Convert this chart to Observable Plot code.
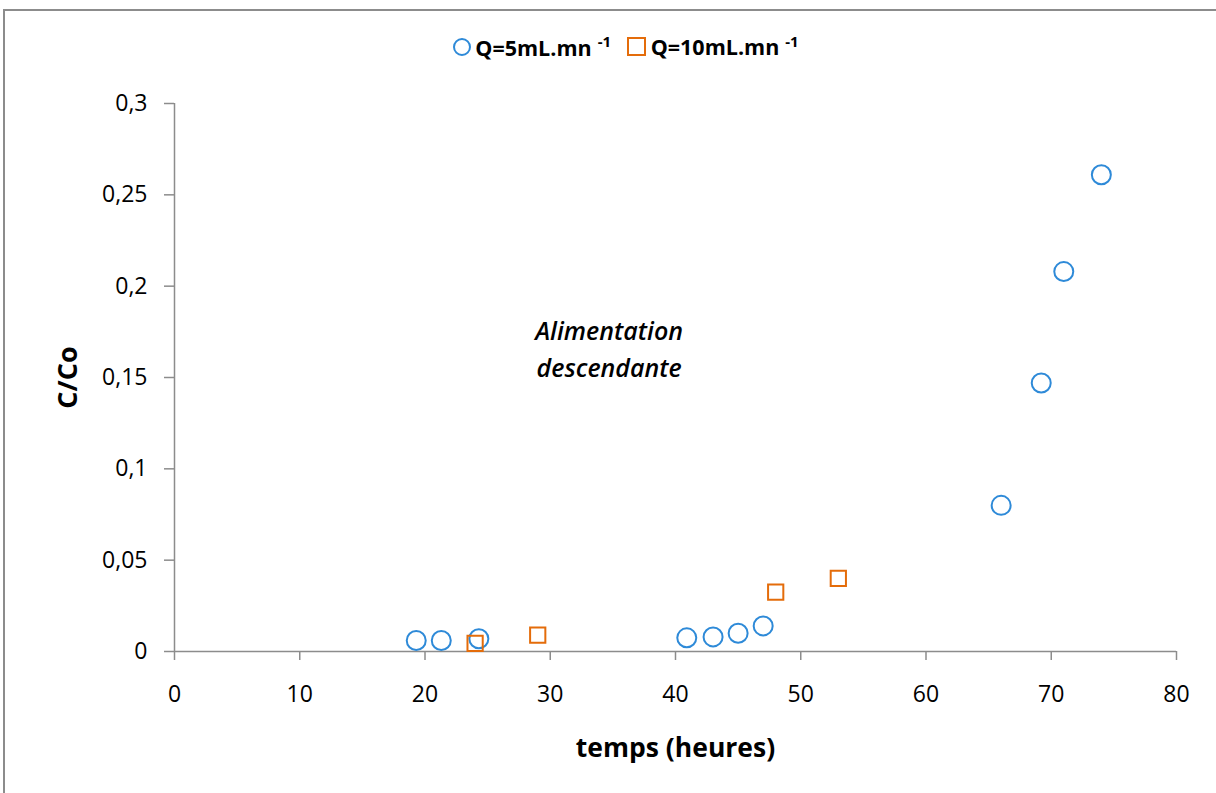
<!DOCTYPE html>
<html>
<head>
<meta charset="utf-8">
<script src="https://cdn.jsdelivr.net/npm/d3@7"></script>
<script src="https://cdn.jsdelivr.net/npm/@observablehq/plot@0.6"></script>
<style>
  html, body { margin: 0; padding: 0; background: #fff; }
  #wrap { position: relative; width: 1216px; height: 793px; overflow: hidden; font-family: "Open Sans", sans-serif; }
  #frame { position: absolute; left: 3px; top: 9px; width: 1300px; height: 900px; border-left: 2px solid #8c8c8c; border-top: 2px solid #8c8c8c; }
  #chart { position: absolute; left: 0; top: 0; }
  #legend { position: absolute; top: 32px; left: 0; width: 1216px; padding-left: 36px; box-sizing: border-box; text-align: center; font-weight: bold; font-size: 21.5px; color: #000; white-space: nowrap; }
  #legend .item { display: inline-flex; align-items: center; margin: 0 5px; }
  #legend sup { font-size: 15px; position: relative; top: -6px; margin-left: 6px; }
  #legend .circ { display: inline-block; width: 14px; height: 14px; border: 2px solid #2e8ad8; border-radius: 50%; margin-right: 4px; }
  #legend .sq { display: inline-block; width: 15px; height: 15px; border: 2px solid #e46c0a; margin-right: 5px; }
</style>
</head>
<body>
<div id="wrap">
  <div id="frame"></div>
  <div id="chart"></div>
  <div id="legend">
    <span class="item"><span class="circ"></span>Q=5mL.mn<sup>-1</sup></span>
    <span class="item"><span class="sq"></span>Q=10mL.mn<sup>-1</sup></span>
  </div>
</div>
<script>
// Data
const timeQ5 = [19.3, 21.3, 24.3, 40.9, 43, 45, 47, 66, 69.2, 71, 74];
const ccoQ5  = [0.006, 0.006, 0.007, 0.0075, 0.008, 0.010, 0.014, 0.080, 0.147, 0.208, 0.261];
const timeQ10 = [24, 29, 48, 53];
const ccoQ10  = [0.0045, 0.009, 0.0325, 0.040];
const xTicks = [0, 10, 20, 30, 40, 50, 60, 70, 80];
const yTicks = [0, 0.05, 0.1, 0.15, 0.2, 0.25, 0.3];
const annotationLines = ["Alimentation", "descendante"];

const q5 = timeQ5.map((t, i) => ({t, c: ccoQ5[i]}));
const q10 = timeQ10.map((t, i) => ({t, c: ccoQ10[i]}));
const fmt = v => String(v).replace(".", ",");

const axisColor = "#8c8c8c";
const font = "'Open Sans', sans-serif";
const plot = Plot.plot({
  width: 1216,
  height: 793,
  marginLeft: 174,
  marginRight: 40,
  marginTop: 103,
  marginBottom: 142,
  style: {fontFamily: font, fontSize: "23px", color: "#000", background: "transparent"},
  x: {domain: [0, 80], label: null},
  y: {domain: [0, 0.3], label: null},
  marks: [
    Plot.ruleY([0], {stroke: axisColor, strokeWidth: 1.5}),
    Plot.ruleX([0], {stroke: axisColor, strokeWidth: 1.5}),
    Plot.axisX({ticks: xTicks, tickSize: 9, tickPadding: 25, stroke: axisColor, strokeWidth: 1.5, fill: "#000", fontSize: 23, tickFormat: d => String(d), label: null}),
    Plot.axisY({ticks: yTicks, tickSize: 10, tickPadding: 17, stroke: axisColor, strokeWidth: 1.5, fill: "#000", fontSize: 23, tickFormat: fmt, label: null}),
    Plot.text(["temps (heures)"], {frameAnchor: "bottom", lineAnchor: "middle", dy: 97, fontWeight: "bold", fontSize: 26.5, fill: "#000"}),
    Plot.text(["C/Co"], {frameAnchor: "left", textAnchor: "middle", lineAnchor: "middle", dx: -106, rotate: -90, fontWeight: "bold", fontSize: 27, fill: "#000"}),
    Plot.text([annotationLines.join("\n")], {x: 34.7, y: 0.1667, fontStyle: "italic", fontSize: 25, lineHeight: 1.45, fill: "#000", fontWeight: 600}),
    Plot.dot(q5, {x: "t", y: "c", symbol: "circle", r: 9.5, stroke: "#2e8ad8", strokeWidth: 2, fill: "none"}),
    Plot.dot(q10, {x: "t", y: "c", symbol: "square", r: 8.6, stroke: "#e46c0a", strokeWidth: 2, fill: "none"})
  ]
});
document.getElementById("chart").appendChild(plot);
</script>
</body>
</html>
